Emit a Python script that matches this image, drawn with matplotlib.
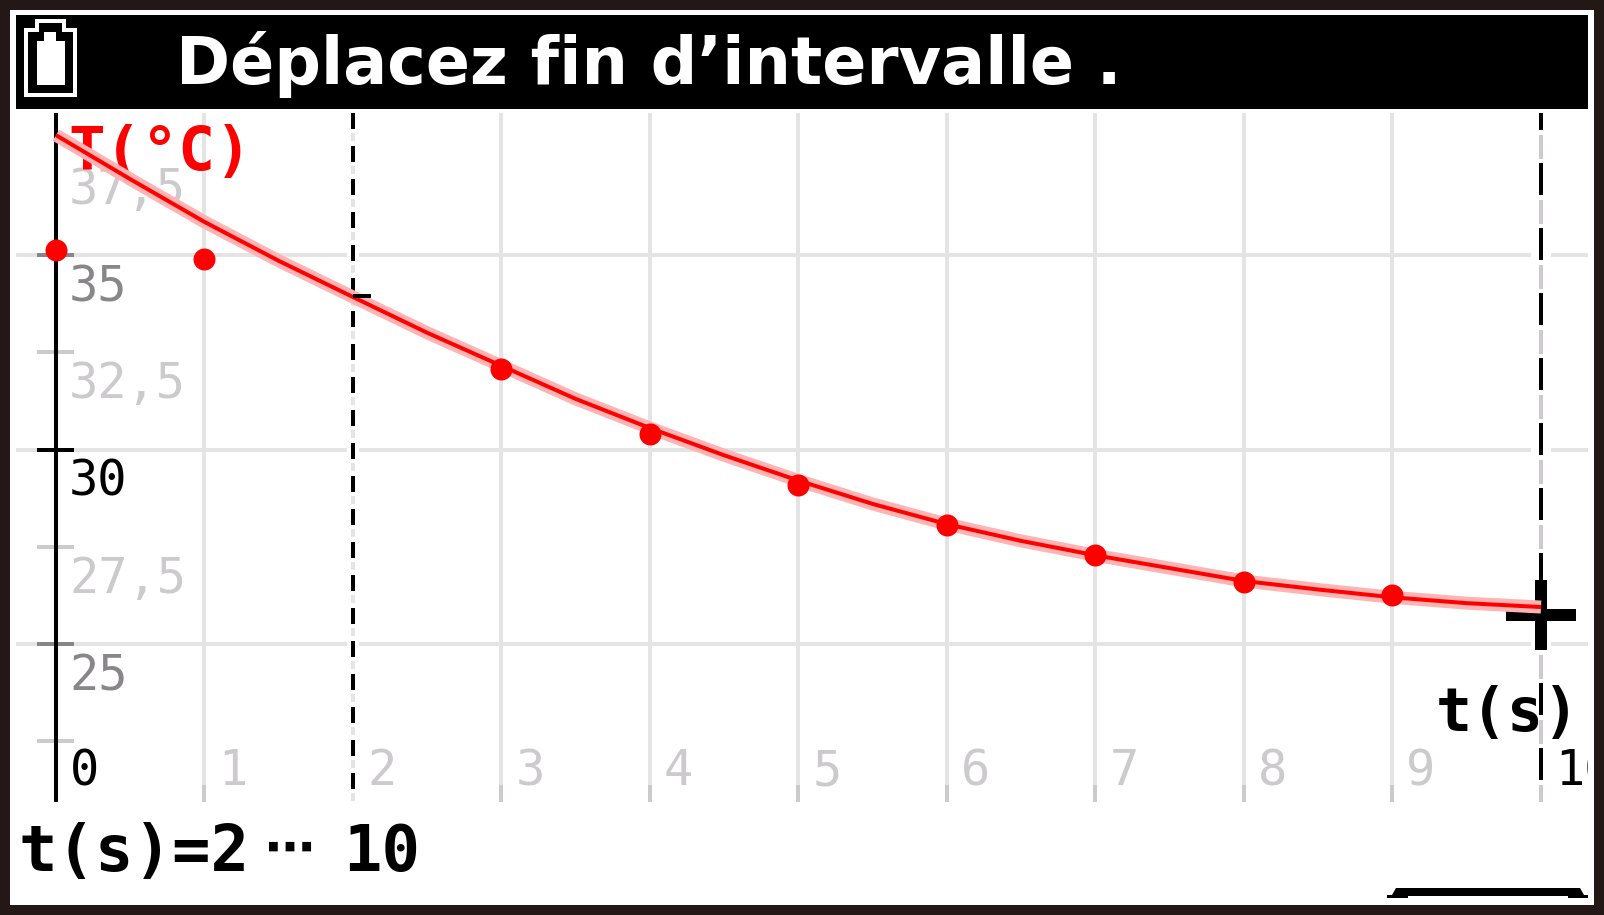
import matplotlib
matplotlib.use('Agg')
import matplotlib.pyplot as plt
from matplotlib.patches import Rectangle, Polygon

plt.rcParams['lines.scale_dashes'] = False

# valeurs
t_points = [0, 1, 3, 4, 5, 6, 7, 8, 9]
T_points = [35.13, 34.9, 32.07, 30.4, 29.1, 28.06, 27.3, 26.6, 26.26]

t_curve = [0, 0.5, 1, 1.5, 2, 2.5, 3, 3.5, 4, 4.5, 5, 5.5, 6, 6.5, 7, 7.5, 8, 8.5, 9, 9.5, 10]
T_curve = [38.08, 36.95, 35.85, 34.85, 33.92, 33.0, 32.15, 31.3, 30.55, 29.85, 29.2, 28.6,
           28.08, 27.65, 27.28, 26.95, 26.62, 26.4, 26.2, 26.05, 25.95]

t_ticks = [0, 1, 2, 3, 4, 5, 6, 7, 8, 9, 10]
t_labels = ['0', '1', '2', '3', '4', '5', '6', '7', '8', '9', '10']
t_label_colors = ['black'] + ['#cccacc'] * 9 + ['black']
T_ticks = [37.5, 35, 32.5, 30, 27.5, 25]
T_labels = ['37,5', '35', '32,5', '30', '27,5', '25']
T_colors = ['#cccacc', '#888688', '#cccacc', 'black', '#cccacc', '#888688']
T_marks = [35, 32.5, 30, 27.5, 25, 22.5]
T_mark_colors = ['#888688', '#cccacc', 'black', '#cccacc', '#888688', '#cccacc']
T_grid = [35, 30, 25]
t_grid = [1, 3, 4, 5, 6, 7, 8, 9]

W, H = 1604, 915
PX = 0.72  # 1 px en points a dpi=100

fig = plt.figure(figsize=(W / 100, H / 100), dpi=100, facecolor='#231815')

# habillage de l'ecran, en pixels
bg = fig.add_axes([0, 0, 1, 1])
bg.set_xlim(0, W)
bg.set_ylim(H, 0)
bg.axis('off')
bg.add_patch(Rectangle((10, 10), 1584, 895, fc='white', ec='none'))
bg.add_patch(Rectangle((16, 15), 1572, 94, fc='black', ec='none'))
# batterie
bg.add_patch(Polygon([[26, 95], [26, 30], [37, 30], [37, 21], [64, 21], [64, 30], [75, 30], [75, 95]],
                     fc='none', ec='white', lw=4 * PX))
bg.add_patch(Polygon([[37, 85], [37, 41], [44, 41], [44, 32], [56, 32], [56, 41], [65, 41], [65, 85]],
                     fc='white', ec='none'))
bg.add_patch(Polygon([[1387, 898], [1387, 895], [1392, 895], [1396, 888], [1580, 888], [1584, 895],
                      [1588, 895], [1588, 898], [1568, 898], [1568, 896], [1408, 896], [1408, 898]],
                     fc='black', ec='none'))
bg.text(176, 84, 'Déplacez fin d’intervalle .', color='white', fontsize=47, family='DejaVu Sans',
        fontweight='bold', va='baseline', ha='left')
bg.text(18, 871, 't(s)=2', color='black', fontsize=46, family='DejaVu Sans Mono',
        fontweight='bold', va='baseline', ha='left')
bg.text(264, 850, '⋯', color='black', fontsize=36, family='DejaVu Sans',
        fontweight='bold', va='center', ha='left')
bg.text(343, 871, '10', color='black', fontsize=46, family='DejaVu Sans Mono',
        fontweight='bold', va='baseline', ha='left')

# zone du graphique
left, right, top, bottom = 16, 1588, 113, 802
x0 = 56
px_t = 148.5
px_T = 38.9
ax = fig.add_axes([left / W, 1 - bottom / H, (right - left) / W, (bottom - top) / H])
ax.patch.set_alpha(0)
ax.set_xlim((left - x0) / px_t, (right - x0) / px_t)
T_bottom = 25 - (bottom - 644) / px_T
T_top = 35 + (255 - top) / px_T
ax.set_ylim(T_bottom, T_top)
ax.axis('off')

T_stop = 25 - (785 - 644) / px_T
for v in T_grid:
    ax.axhline(v, color='#e4e4e4', lw=4 * PX, zorder=1)
for v in t_grid:
    ax.plot([v, v], [T_stop, T_top], color='#e4e4e4', lw=4 * PX, zorder=1, solid_capstyle='butt')
    ax.plot([v, v], [T_bottom, T_stop], color='#cccacc', lw=4 * PX, zorder=1, solid_capstyle='butt')

# bornes de l'intervalle
ax.plot([2, 2], [T_bottom, T_top], color='white', lw=12 * PX, zorder=1.5, solid_capstyle='butt')
ax.plot([10, 10], [T_bottom, T_top], color='white', lw=20 * PX, zorder=1.5, solid_capstyle='butt')
ax.plot([2, 2], [T_top, T_bottom], color='#e4e4e4', lw=4 * PX, zorder=3,
        linestyle=(13 * PX, (8 * PX, 25 * PX)), dash_capstyle='butt')
ax.plot([2, 2], [T_top, T_bottom], color='black', lw=4 * PX, zorder=3,
        linestyle=(0, (16 * PX, 17 * PX)), dash_capstyle='butt')
ax.plot([10, 10], [T_top, T_bottom], color='#cccacc', lw=4 * PX, zorder=3,
        linestyle=(43 * PX, (24 * PX, 41 * PX)), dash_capstyle='butt')
ax.plot([10, 10], [T_top, T_bottom], color='black', lw=4 * PX, zorder=3,
        linestyle=(15 * PX, (32 * PX, 33 * PX)), dash_capstyle='butt')

# axes et graduations
ax.axvline(0, color='black', lw=4 * PX, zorder=2.5)
for v, c in zip(T_marks, T_mark_colors):
    ax.plot([-19 / px_t, 18 / px_t], [v, v], color=c, lw=4 * PX, zorder=2.4, solid_capstyle='butt')
for v, lab, c in zip(T_ticks, T_labels, T_colors):
    ax.annotate(lab, xy=(0, v), xytext=(13 * PX, -46 * PX), textcoords='offset points',
                color=c, fontsize=35, family='DejaVu Sans Mono', va='baseline', ha='left', zorder=2)
for v, lab, c in zip(t_ticks, t_labels, t_label_colors):
    txt = ax.annotate(lab, xy=(v, T_stop), xytext=(14 * PX, 0), textcoords='offset points',
                      color=c, fontsize=35, family='DejaVu Sans Mono',
                      va='baseline', ha='left', zorder=2, annotation_clip=False)
    txt.set_clip_on(True)
    txt.set_clip_path(ax.patch)

# titres d'axes
ax.text((68 - x0) / px_t, 35 + (255 - 170) / px_T, 'T(°C)', color='#ff0000', fontsize=44,
        family='DejaVu Sans Mono', fontweight='bold', va='baseline', ha='left', zorder=2.2)
ax.text((1436 - x0) / px_t, 25 - (731 - 644) / px_T, 't(s)', color='black', fontsize=43,
        family='DejaVu Sans Mono', fontweight='bold', va='baseline', ha='left', zorder=3.5)

# modele et mesures
ax.plot(t_curve, T_curve, color='#ffb3b3', lw=13 * PX, zorder=4, solid_capstyle='butt')
ax.plot(t_curve, T_curve, color='#ff0000', lw=4 * PX, zorder=4.1, solid_capstyle='butt')
ax.plot(t_points, T_points, linestyle='none', marker='o', color='#ff0000', ms=22 * PX, mew=0, zorder=5)

# curseur
ax.plot([2, 2 + 18 / px_t], [33.95, 33.95], color='black', lw=4 * PX, zorder=4.2, solid_capstyle='butt')
ax.plot([10, 10], [35 - (580 - 255) / px_T, 35 - (650 - 255) / px_T], color='black', lw=12 * PX,
        zorder=3.8, solid_capstyle='butt')
ax.plot([10 - 35 / px_t, 10 + 35 / px_t], [35 - (615 - 255) / px_T] * 2, color='black', lw=12 * PX,
        zorder=3.8, solid_capstyle='butt')

fig.savefig('out.png', dpi=100, facecolor=fig.get_facecolor())
